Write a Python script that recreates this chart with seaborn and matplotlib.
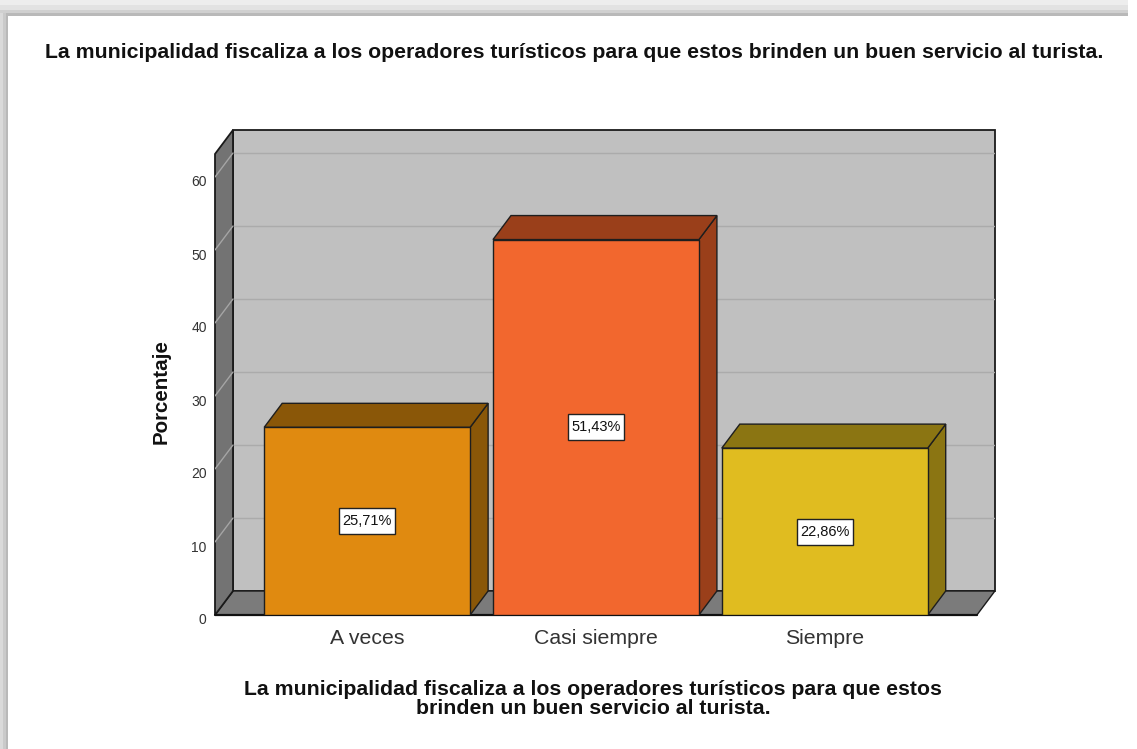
import numpy as np
import pandas as pd
import matplotlib
matplotlib.use("Agg")
import matplotlib.pyplot as plt
import matplotlib.transforms as mtrans
import seaborn as sns
from matplotlib.patches import Polygon, Rectangle

# ---------------- data ----------------
categories = ["A veces", "Casi siempre", "Siempre"]
percentages = [25.71, 51.43, 22.86]
value_labels = ["25,71%", "51,43%", "22,86%"]
yticks = [0, 10, 20, 30, 40, 50, 60]
title = ("La municipalidad fiscaliza a los operadores turísticos para que "
         "estos brinden un buen servicio al turista.")
xlabel = ("La municipalidad fiscaliza a los operadores turísticos para que estos\n"
          "brinden un buen servicio al turista.")
ylabel = "Porcentaje"
front_colors = ["#E08A10", "#F2672E", "#E0BC20"]
shade_colors = ["#8A5708", "#9A3F1A", "#8B7512"]

# ---------------- style ----------------
sns.set_theme(style="white")
plt.rcParams['font.family'] = ['Liberation Sans', 'DejaVu Sans']

W, H = 1137, 749
fig = plt.figure(figsize=(W / 100, H / 100), dpi=100)
fig.patch.set_facecolor("white")

# frame shadow (top and left)
for (y0, y1, c) in [(0, 5, "#EDEDED"), (5, 10, "#E2E2E2"), (10, 13, "#D0D0D0"), (13, 16, "#B9B9B9")]:
    fig.add_artist(Rectangle((0, 1 - y1 / H), 1128 / W, (y1 - y0) / H,
                             transform=fig.transFigure, fc=c, ec="none", zorder=0))
for (x0p, x1p, c) in [(0, 3, "#DADADA"), (3, 6, "#CACACA"), (6, 8, "#B9B9B9")]:
    fig.add_artist(Rectangle((x0p / W, 0), (x1p - x0p) / W, 1 - 13 / H,
                             transform=fig.transFigure, fc=c, ec="none", zorder=0))

# axes geometry (pixels)
ax_l, ax_r, ax_b, ax_t = 215, 995, 615, 130
ax = fig.add_axes([ax_l / W, 1 - ax_b / H, (ax_r - ax_l) / W, (ax_b - ax_t) / H])
ax.set_facecolor("none")

df = pd.DataFrame({"cat": categories, "pct": percentages})
sns.barplot(data=df, x="cat", y="pct", hue="cat", palette=front_colors,
            saturation=1, width=0.9, edgecolor="#1E1E1E", linewidth=1.0,
            legend=False, ax=ax, zorder=4)
bars = list(ax.patches)

px_per_y = 7.3
px_per_x = 228.8
x0 = -0.665
xf = 2.665
ax.set_xlim(x0, x0 + (ax_r - ax_l) / px_per_x)
ax.set_ylim(0, (ax_b - ax_t) / px_per_y)
ytop = ax.get_ylim()[1]
dx = 18 / px_per_x
dy = 24 / px_per_y

# back wall
ax.add_patch(Rectangle((x0 + dx, dy), xf - x0, ytop - dy, fc="#C0C0C0",
                       ec="#1A1A1A", lw=1.3, zorder=0.5, clip_on=False))
# floor
ax.add_patch(Polygon([(x0, 0), (xf, 0), (xf + dx, dy), (x0 + dx, dy)], closed=True,
                     fc="#7B7B7B", ec="#1A1A1A", lw=1.0, zorder=0.8, clip_on=False))
# side wall
ax.add_patch(Polygon([(x0, 0), (x0 + dx, dy), (x0 + dx, ytop), (x0, ytop - dy)], closed=True,
                     fc="#737373", ec="#1A1A1A", lw=1.3, zorder=0.9, clip_on=False))
# gridlines
for t in yticks[1:]:
    ax.plot([x0 + dx, xf + dx], [t + dy, t + dy], color="#ABABAB", lw=1.0, zorder=0.6)
    ax.plot([x0, x0 + dx], [t, t + dy], color="#A5A5A5", lw=1.0, zorder=1)
# front floor edge
ax.plot([x0, xf], [0, 0], color="#111111", lw=1.6, zorder=3, clip_on=False)

# 3D sides and tops of bars
for bar, sc in zip(bars, shade_colors):
    l = bar.get_x()
    r = l + bar.get_width()
    h = bar.get_height()
    ax.add_patch(Polygon([(r, 0), (r + dx, dy), (r + dx, h + dy), (r, h)], closed=True,
                         fc=sc, ec="#1E1E1E", lw=1.0, zorder=3.5))
    ax.add_patch(Polygon([(l, h), (l + dx, h + dy), (r + dx, h + dy), (r, h)], closed=True,
                         fc=sc, ec="#1E1E1E", lw=1.0, zorder=3.5))

# value labels with box of fixed pixel size
for bar, lab in zip(bars, value_labels):
    cx = bar.get_x() + bar.get_width() / 2
    cy = bar.get_height() / 2
    box_tr = fig.dpi_scale_trans + mtrans.ScaledTranslation(cx, cy, ax.transData)
    ax.add_patch(Rectangle((-0.28, -0.13), 0.56, 0.26, transform=box_tr,
                           fc="white", ec="#222222", lw=1.0, zorder=5.5, clip_on=False))
    ax.text(cx, cy, lab, ha="center", va="center", fontsize=10.5,
            color="#111111", zorder=6)

# ticks
for s in ax.spines.values():
    s.set_visible(False)
ax.set_yticks(yticks)
ax.set_yticklabels([str(v) for v in yticks])
ax.tick_params(axis="y", length=0, pad=6, labelsize=10, labelcolor="#333333")
shift = mtrans.ScaledTranslation(0, -4 / 100, fig.dpi_scale_trans)
for lbl in ax.get_yticklabels():
    lbl.set_transform(lbl.get_transform() + shift)
ax.set_xticks(range(len(categories)))
ax.set_xticklabels(categories)
ax.tick_params(axis="x", length=0, pad=10, labelsize=15.3, labelcolor="#333333")
ax.set_xlabel("")
ax.set_ylabel("")
ax.grid(False)

# texts
fig.text(574 / W, 1 - 52 / H, title, ha="center", va="center", fontsize=15.3,
         fontweight="bold", color="#111111")
fig.text(593 / W, 1 - 699 / H, xlabel, ha="center", va="center", fontsize=15.3,
         fontweight="bold", color="#111111", linespacing=0.95)
fig.text(161 / W, 1 - 392 / H, ylabel, ha="center", va="center", fontsize=14.8,
         fontweight="bold", color="#111111", rotation=90)

fig.savefig("out.png", dpi=100, facecolor="white")
